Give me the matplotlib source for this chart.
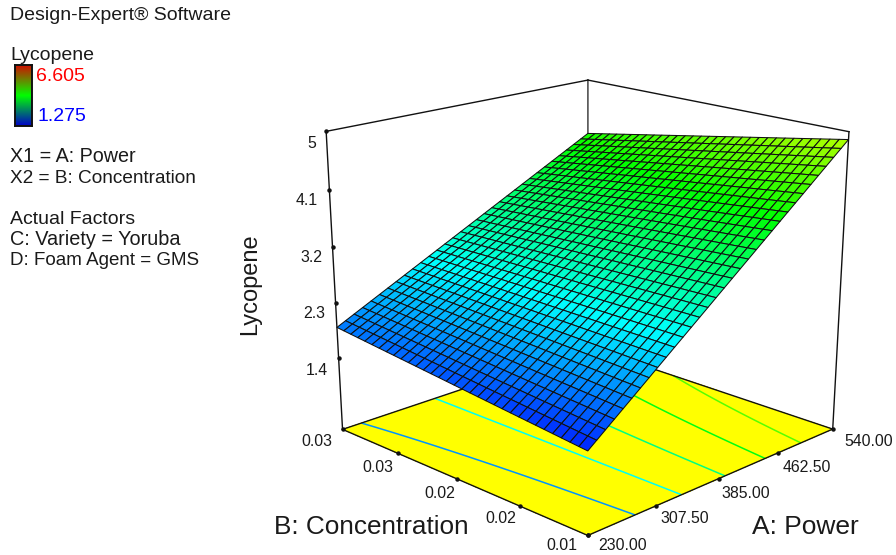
import numpy as np
import matplotlib
matplotlib.use("Agg")
import matplotlib.pyplot as plt
from matplotlib.colors import LinearSegmentedColormap, Normalize
from mpl_toolkits.mplot3d import Axes3D  # noqa: F401

plt.rcParams['font.family'] = ['Liberation Sans', 'DejaVu Sans']

# ---- values ----
power_ticks = [230.00, 307.50, 385.00, 462.50, 540.00]
conc_ticks = [0.01, 0.015, 0.02, 0.025, 0.03]
conc_labels = ['0.01', '0.02', '0.02', '0.03', '0.03']
lycopene_ticks = [5, 4.1, 3.2, 2.3, 1.4]
lycopene_labels = ['5', '4.1', '3.2', '2.3', '1.4']
z_floor = 0.18
z_top = 5.0
scale_min = 1.275
scale_max = 6.605
# surface heights at corners (Power, Concentration)
z_low_low = 1.46
z_high_low = 4.88
z_low_high = 1.90
z_high_high = 4.08
contour_levels = [2.05, 2.66, 3.26, 3.84, 4.38]
mesh_cells = 32

W, H = 896, 555
fig = plt.figure(figsize=(W / 100, H / 100), dpi=100, facecolor='white')
# Axes3D always keeps a square box: make the square cover the whole figure
ax = fig.add_axes([0, -(W - H) / 2 / H, 1, W / H], projection='3d')
ax.set_axis_off()
ax.patch.set_visible(False)
ax.computed_zorder = False

# ---- camera: projective fit of the box corners to their pixel places ----
cal_unit = np.array([[0, 0, 0], [1, 0, 0], [0, 1, 0], [1, 1, 0],
                     [1, 0, 1], [0, 1, 1], [1, 1, 1]], float)
cal_px = np.array([[588, 534], [832.5, 431], [342.5, 431], [588, 345],
                   [849, 131], [326, 131], [588, 81]], float)
rows, rhs = [], []
for (X, Y, Z_), (u, v) in zip(cal_unit, cal_px):
    rows.append([X, Y, Z_, 1, 0, 0, 0, 0, -u * X, -u * Y, -u * Z_])
    rhs.append(u)
    rows.append([0, 0, 0, 0, X, Y, Z_, 1, -v * X, -v * Y, -v * Z_])
    rhs.append(v)
sol = np.linalg.lstsq(np.array(rows), np.array(rhs), rcond=None)[0]
row_u, row_v = sol[:4], sol[4:8]
row_h = np.r_[sol[8:11], 1.0]

inv_lim = ax.transLimits.inverted()
p0 = inv_lim.transform([0, (H + (W - H) / 2) / W])      # pixel (0, 0)
p1 = inv_lim.transform([1, (W - H) / 2 / W])            # pixel (W, H)
sx, ox = (p1[0] - p0[0]) / W, p0[0]
sy, oy = (p1[1] - p0[1]) / H, p0[1]
pix_to_view = np.array([
    sx * row_u + ox * row_h,
    sy * row_v + oy * row_h,
    [0, 0, 0, -1],
    row_h])
a0, a1 = power_ticks[0], power_ticks[-1]
b0, b1 = conc_ticks[0], conc_ticks[-1]
data_to_unit = np.array([
    [1 / (a1 - a0), 0, 0, -a0 / (a1 - a0)],
    [0, 1 / (b1 - b0), 0, -b0 / (b1 - b0)],
    [0, 0, 1 / (z_top - z_floor), -z_floor / (z_top - z_floor)],
    [0, 0, 0, 1]])
M = pix_to_view @ data_to_unit
ax.get_proj = lambda: M

# ---- colours ----
surf_cmap = LinearSegmentedColormap.from_list(
    'de', ['#0000ff', '#00ffff', '#00ff00', '#ffff00', '#ff0000'])
norm = Normalize(scale_min, scale_max)

# ---- response surface ----
a = np.linspace(a0, a1, mesh_cells + 1)
b = np.linspace(b0, b1, mesh_cells + 1)
A, B = np.meshgrid(a, b)
ta, tb = (A - a0) / (a1 - a0), (B - b0) / (b1 - b0)
Zs = (z_low_low * (1 - ta) * (1 - tb) + z_high_low * ta * (1 - tb)
      + z_low_high * (1 - ta) * tb + z_high_high * ta * tb)

# floor
fa, fb = np.meshgrid([a0, a1], [b0, b1])
ax.plot_surface(fa, fb, np.full_like(fa, z_floor), color='#ffff00', shade=False,
                linewidth=0, antialiased=False, zorder=1)
ax.contour(A, B, Zs, levels=contour_levels, zdir='z', offset=z_floor,
           cmap=surf_cmap, norm=norm, linewidths=1.1, zorder=2)

# back box lines, behind the surface
line = dict(color='#111111', lw=1.0)
ax.plot([a0, a1], [b1, b1], [z_floor, z_floor], zorder=3, **line)
ax.plot([a1, a1], [b0, b1], [z_floor, z_floor], zorder=3, **line)
ax.plot([a1, a1], [b1, b1], [z_floor, z_top], zorder=3, color='#444444', lw=1.1)

ax.plot_surface(A, B, Zs, rstride=1, cstride=1, cmap=surf_cmap, norm=norm,
                edgecolor='#101010', linewidth=0.75, shade=False, zorder=4)

# front box lines
ax.plot([a0, a1], [b1, b1], [z_top, z_top], zorder=5, **line)
ax.plot([a1, a1], [b0, b1], [z_top, z_top], zorder=5, **line)
ax.plot([a0, a0], [b1, b1], [z_floor, z_top], zorder=5, **line)
ax.plot([a1, a1], [b0, b0], [z_floor, z_top], zorder=5, **line)
ax.plot([a0, a1], [b0, b0], [z_floor, z_floor], zorder=5, **line)
ax.plot([a0, a0], [b0, b1], [z_floor, z_floor], zorder=5, **line)

dot = dict(color='#111111', marker='o', ms=2.2, ls='none', zorder=6)
ax.plot(power_ticks, [b0] * 5, [z_floor] * 5, **dot)
ax.plot([a0] * 5, conc_ticks, [z_floor] * 5, **dot)
ax.plot([a0] * 5, [b1] * 5, lycopene_ticks, **dot)


def put(px, py, s, size, ha='center', color='#1a1a1a', **kw):
    fig.text(px / W, 1 - (py + 1.5) / H, s, fontsize=size, ha=ha, va='center',
             color=color, **kw)


# tick labels
for x, y, s in zip([312, 307, 311, 314, 317], [142, 199, 256, 312, 369], lycopene_labels):
    put(x, y, s, 11.4)
for x, y, s in zip([562, 501, 440, 378, 317], [544, 517, 492, 466, 440], conc_labels):
    put(x, y, s, 11.4)
for x, y, v in zip([623, 685, 746, 807, 869], [544, 517, 492, 466, 440], power_ticks):
    put(x, y, f'{v:.2f}', 11.4)

# axis titles
put(371, 525, 'B: Concentration', 18.8)
put(805, 525, 'A: Power', 19.0)
put(250, 283, 'Lycopene', 17.0, rotation=90)

# left-hand notes
left = 10
for y, s, size in [(14, 'Design-Expert® Software', 14.0),
                   (54, 'Lycopene', 14.0),
                   (155, 'X1 = A: Power', 14.2),
                   (177, 'X2 = B: Concentration', 13.7),
                   (218, 'Actual Factors', 14.0),
                   (238, 'C: Variety = Yoruba', 14.3),
                   (259, 'D: Foam Agent = GMS', 13.5)]:
    put(left, y, s, size, ha='left')
put(36, 75, f'{scale_max:.3f}', 14, ha='left', color='#ff0000')
put(37, 115, f'{scale_min:.3f}', 14, ha='left', color='#0000ff')

# colour key
key = fig.add_axes([15 / W, 1 - 126 / H, 16.5 / W, 61 / H])
key_cmap = LinearSegmentedColormap.from_list('key', ['#0000c8', '#00ff00', '#d01000'])
key.imshow(np.linspace(1, 0, 128)[:, None], aspect='auto', cmap=key_cmap, vmin=0, vmax=1)
key.set_xticks([])
key.set_yticks([])
for sp in key.spines.values():
    sp.set_linewidth(1.4)
    sp.set_color('#111111')

fig.savefig('out.png', dpi=100, facecolor='white')
